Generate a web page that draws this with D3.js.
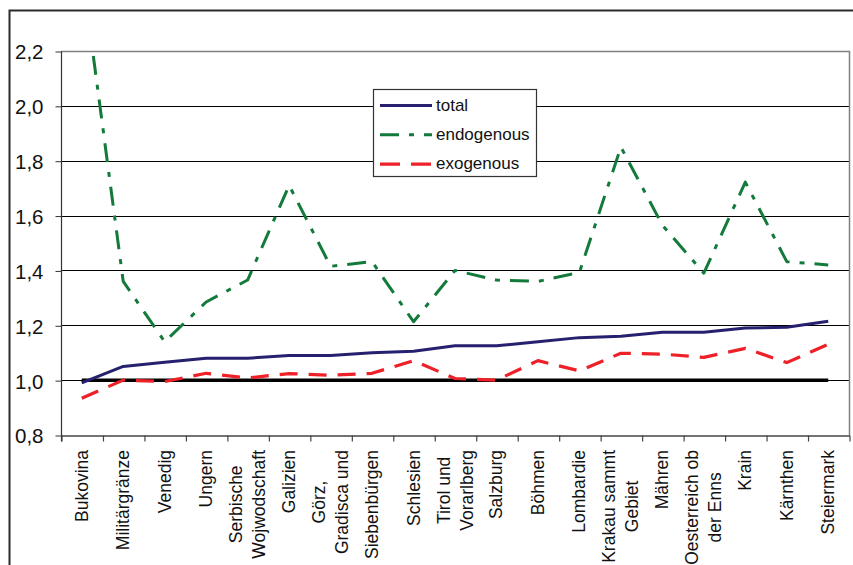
<!DOCTYPE html>
<html>
<head>
<meta charset="utf-8">
<script src="https://cdn.jsdelivr.net/npm/d3@7"></script>
<style>
  html, body { margin: 0; padding: 0; background: #fff; }
  svg { display: block; font-family: "Liberation Sans", Arial, sans-serif; }
</style>
</head>
<body>
<svg id="chart" width="853" height="565"></svg>
<script>
// Crown lands (line breaks mark how each label wraps)
const categories = [
  "Bukovina", "Militärgränze", "Venedig", "Ungern", "Serbische\nWojwodschaft",
  "Galizien", "Görz,\nGradisca und", "Siebenbürgen", "Schlesien", "Tirol und\nVorarlberg",
  "Salzburg", "Böhmen", "Lombardie", "Krakau sammt\nGebiet", "Mähren",
  "Oesterreich ob\nder Enns", "Krain", "Kärnthen", "Steiermark"
];

const total = [0.99, 1.05, 1.065, 1.08, 1.08, 1.09, 1.09, 1.10, 1.105, 1.125,
  1.125, 1.14, 1.155, 1.16, 1.175, 1.175, 1.19, 1.193, 1.215];

const endogenous = [2.50, 1.36, 1.14, 1.285, 1.365, 1.71, 1.415, 1.432, 1.213, 1.40,
  1.365, 1.36, 1.393, 1.85, 1.565, 1.39, 1.722, 1.432, 1.42];

const exogenous = [0.934, 1.0, 0.995, 1.025, 1.008, 1.024, 1.018, 1.025, 1.071, 1.006,
  1.0, 1.071, 1.034, 1.098, 1.095, 1.083, 1.116, 1.064, 1.131];

// Parity line at 1.0
const parity = categories.map(() => 1.0);

const yTicks = [0.8, 1.0, 1.2, 1.4, 1.6, 1.8, 2.0, 2.2];

const seriesNames = ["total", "endogenous", "exogenous"];

const svg = d3.select("#chart");
const plot = { left: 61, right: 849, top: 51, bottom: 435 };

const x = d3.scaleBand().domain(categories).range([plot.left, plot.right]).padding(0);
const xEdges = d3.scaleLinear().domain([0, categories.length]).range([plot.left, plot.right]);
const y = d3.scaleLinear().domain([0.8, 2.2]).range([plot.bottom, plot.top]);
const cx = c => x(c) + x.bandwidth() / 2;

const styles = {
  total:      { color: "#25216e", width: 3,   dash: null },
  endogenous: { color: "#137a3b", width: 3,   dash: "19,10,5,10" },
  exogenous:  { color: "#ee2028", width: 3.2, dash: "18,11" }
};

// Outer chart frame
svg.append("path")
  .attr("d", "M9.5,565 L9.5,10.5 L853,10.5")
  .attr("fill", "none").attr("stroke", "#2a2a2a").attr("stroke-width", 2);

// Horizontal gridlines
svg.append("g").selectAll("line")
  .data(yTicks.filter(v => v > 0.8 && v < 2.2))
  .join("line")
  .attr("x1", plot.left).attr("x2", plot.right)
  .attr("y1", d => Math.round(y(d)) + 0.5).attr("y2", d => Math.round(y(d)) + 0.5)
  .attr("stroke", "#000").attr("stroke-width", 1);

// Plot area border (top and right)
svg.append("path")
  .attr("d", `M${plot.left},${plot.top + 0.5} L${plot.right + 0.5},${plot.top + 0.5} L${plot.right + 0.5},${plot.bottom}`)
  .attr("fill", "none").attr("stroke", "#808080").attr("stroke-width", 1.5);

// Y axis
const yAxis = svg.append("g")
  .attr("transform", `translate(${plot.left + 0.5},0.5)`)
  .call(d3.axisLeft(y).tickValues(yTicks).tickSize(6).tickSizeOuter(0)
    .tickFormat(d => d3.format(".1f")(d).replace(".", ",")));
yAxis.select(".domain").attr("stroke", "#333").attr("stroke-width", 1.2)
  .attr("d", `M0,${plot.top} V${plot.bottom + 6}`);
yAxis.selectAll(".tick line").attr("stroke", "#333");
yAxis.selectAll(".tick text")
  .attr("x", -18).attr("dy", "0.36em")
  .attr("font-size", 20.5).attr("fill", "#111").attr("font-family", "Liberation Sans, Arial, sans-serif");

// X axis with ticks on category boundaries
const xAxis = svg.append("g")
  .attr("transform", `translate(0.5,${plot.bottom + 0.5})`)
  .call(d3.axisBottom(xEdges).tickValues(d3.range(categories.length + 1))
    .tickSize(6).tickSizeOuter(0).tickFormat(""));
xAxis.select(".domain").attr("stroke", "#444").attr("stroke-width", 1.5);
xAxis.selectAll(".tick line").attr("stroke", "#444").attr("stroke-width", 1.2);

// Category labels, rotated, right-aligned just below the axis
const labelSize = 17.5, lineGap = 23, labelTop = 450;
const labels = svg.append("g").attr("font-size", labelSize).attr("fill", "#111");
categories.forEach(c => {
  const lines = c.split("\n");
  const g = labels.append("g");
  const texts = lines.map(l => g.append("text").text(l).attr("text-anchor", "middle"));
  const maxW = d3.max(texts, t => t.node().getComputedTextLength());
  const midY = labelTop + maxW / 2;
  texts.forEach((t, i) => {
    const bx = cx(c) + 6 + (i - (lines.length - 1) / 2) * lineGap;
    t.attr("transform", `translate(${bx},${midY}) rotate(-90)`);
  });
});

// Clip series to the plot area
svg.append("clipPath").attr("id", "plotClip")
  .append("rect")
  .attr("x", plot.left).attr("y", plot.top)
  .attr("width", plot.right - plot.left).attr("height", plot.bottom - plot.top);

const line = d3.line().x((d, i) => cx(categories[i])).y(d => y(d));
const series = svg.append("g").attr("clip-path", "url(#plotClip)");

series.append("path").datum(parity)
  .attr("d", line).attr("fill", "none")
  .attr("stroke", "#000").attr("stroke-width", 3.5);

const data = { total, endogenous, exogenous };
["exogenous", "total", "endogenous"].forEach(name => {
  const s = styles[name];
  series.append("path").datum(data[name])
    .attr("d", line).attr("fill", "none")
    .attr("stroke", s.color).attr("stroke-width", s.width)
    .attr("stroke-dasharray", s.dash)
    .attr("stroke-linejoin", "round");
});

// Legend
const legend = svg.append("g");
legend.append("rect")
  .attr("x", 373.5).attr("y", 89.5).attr("width", 163).attr("height", 87)
  .attr("fill", "#fff").attr("stroke", "#333").attr("stroke-width", 1.2);
seriesNames.forEach((name, i) => {
  const s = styles[name];
  const ly = 105.5 + i * 29.3;
  legend.append("line")
    .attr("x1", 380).attr("x2", 432).attr("y1", ly).attr("y2", ly)
    .attr("stroke", s.color).attr("stroke-width", s.width)
    .attr("stroke-dasharray", name === "exogenous" ? "20,11" : s.dash);
  legend.append("text")
    .attr("x", 436).attr("y", ly + 5)
    .attr("font-size", 17).attr("fill", "#111")
    .text(name);
});
</script>
</body>
</html>
